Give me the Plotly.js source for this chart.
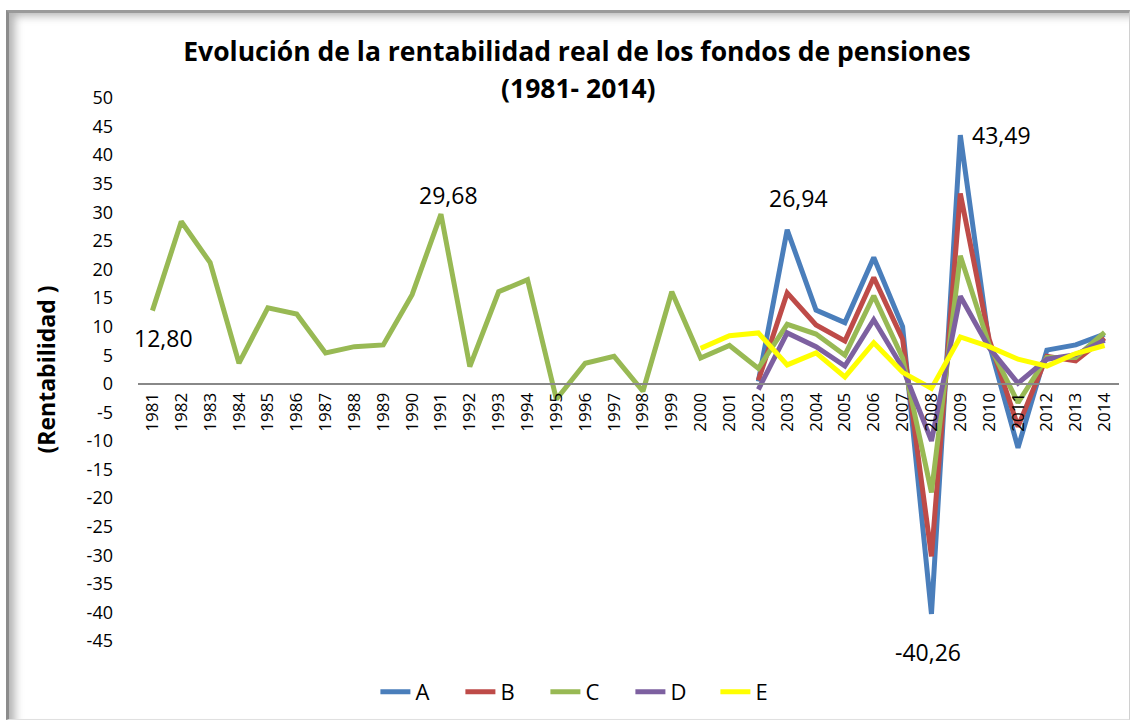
<!DOCTYPE html>
<html>
<head>
<meta charset="utf-8">
<script src="https://cdn.plot.ly/plotly-3.0.1.min.js"></script>
<style>
  html, body { margin: 0; padding: 0; background: #fff; }
  #wrap { position: relative; width: 1136px; height: 728px; overflow: hidden; }
  #frame { position: absolute; left: 6px; top: 10px; width: 1124px; height: 710px;
           border-left: 3px solid #8c8c8c; border-top: 3px solid #9a9a9a; border-right: 1px solid #d0d0d0; border-bottom: 1px solid #e0e0e0;
           box-shadow: inset 9px 6px 8px -3px rgba(120,120,120,0.55); box-sizing: border-box; }
  #chart { position: absolute; left: 0; top: 0; width: 1136px; height: 728px; }
</style>
</head>
<body>
<div id="wrap">
  <div id="frame"></div>
  <div id="chart"></div>
</div>
<script>
// ---- data ----
const years = ['1981','1982','1983','1984','1985','1986','1987','1988','1989','1990',
               '1991','1992','1993','1994','1995','1996','1997','1998','1999','2000',
               '2001','2002','2003','2004','2005','2006','2007','2008','2009','2010',
               '2011','2012','2013','2014'];

const seriesA = [null,null,null,null,null,null,null,null,null,null,
                 null,null,null,null,null,null,null,null,null,null,
                 null,0.4,26.94,12.9,10.7,22.1,10.0,-40.26,43.49,7.0,
                 -11.2,5.9,6.8,8.7];
const seriesB = [null,null,null,null,null,null,null,null,null,null,
                 null,null,null,null,null,null,null,null,null,null,
                 null,0.6,15.9,10.3,7.5,18.6,7.8,-30.2,33.3,7.8,
                 -7.5,4.8,4.0,8.0];
const seriesC = [12.80,28.4,21.2,3.6,13.3,12.2,5.4,6.5,6.8,15.6,
                 29.68,3.0,16.1,18.2,-2.7,3.6,4.8,-1.3,16.1,4.5,
                 6.7,2.7,10.4,8.7,5.0,15.4,4.5,-19.0,22.4,6.8,
                 -3.3,4.6,4.6,9.0];
const seriesD = [null,null,null,null,null,null,null,null,null,null,
                 null,null,null,null,null,null,null,null,null,null,
                 null,-1.0,8.9,6.5,3.1,11.2,2.8,-10.0,15.3,6.3,
                 0.1,4.3,5.1,7.6];
const seriesE = [null,null,null,null,null,null,null,null,null,null,
                 null,null,null,null,null,null,null,null,null,6.2,
                 8.4,8.9,3.3,5.4,1.2,7.2,2.0,-0.8,8.2,6.5,
                 4.3,3.1,5.3,6.7];

const seriesNames = ['A','B','C','D','E'];
const yTickVals = [50,45,40,35,30,25,20,15,10,5,0,-5,-10,-15,-20,-25,-30,-35,-40,-45];

// labelled points: [series name, year]
const labelledPoints = [['C','1981'],['C','1991'],['A','2003'],['A','2009'],['A','2008']];

const titleLine1 = 'Evolución de la rentabilidad real de los fondos de pensiones';
const titleLine2 = '(1981- 2014)';
const yTitle = '(Rentabilidad )';

// ---- chart ----
const allSeries = {A: seriesA, B: seriesB, C: seriesC, D: seriesD, E: seriesE};
const colors = {A:'#4a7ebb', B:'#be4b48', C:'#98b954', D:'#7d60a0', E:'#ffff00'};
const FONT = '"Open Sans", "Noto Sans", sans-serif';

const traces = seriesNames.map(n => ({
  type: 'scatter', mode: 'lines', name: n,
  x: years, y: allSeries[n],
  line: {color: colors[n], width: 5, shape: 'linear'},
  connectgaps: false, hoverinfo: 'x+y'
}));

const labelOffsets = {
  'C1981': [11, -27], 'C1991': [8, 19], 'A2003': [11, 32], 'A2009': [41, 0], 'A2008': [-3, -38]
};
const annotations = labelledPoints.map(([s, yr]) => {
  const idx = years.indexOf(yr);
  const v = allSeries[s][idx];
  const off = labelOffsets[s + yr];
  return {
    x: idx, y: v, xref: 'x', yref: 'y',
    text: v.toFixed(2).replace('.', ','),
    showarrow: false, xshift: off[0], yshift: off[1],
    xanchor: 'center', yanchor: 'middle',
    font: {family: FONT, size: 23, color: '#000'}
  };
});
annotations.push({
  text: '<b>' + titleLine2 + '</b>', xref: 'paper', yref: 'paper',
  x: (578 - 138) / 981, y: (641 - 88) / 543, xanchor: 'center', yanchor: 'middle',
  showarrow: false, font: {family: FONT, size: 26.5, color: '#000'}
});

const layout = {
  width: 1136, height: 728,
  paper_bgcolor: 'rgba(0,0,0,0)', plot_bgcolor: 'rgba(0,0,0,0)',
  margin: {l: 138, r: 17, t: 98, b: 87},
  font: {family: FONT, color: '#000'},
  title: {
    text: '<b>' + titleLine1 + '</b>',
    x: 577 / 1136, xanchor: 'center', y: 1 - 52 / 728, yanchor: 'middle', yref: 'container',
    font: {family: FONT, size: 26.5, color: '#000'}
  },
  xaxis: {
    type: 'category', range: [-0.5, 33.5],
    anchor: 'free', position: 0.4733,
    showline: true, linecolor: '#888888', linewidth: 2,
    showgrid: false, zeroline: false, ticks: '',
    tickangle: -90, tickfont: {family: FONT, size: 17, color: '#000'},
    ticklabelstandoff: 1, fixedrange: true
  },
  yaxis: {
    range: [-45, 50], tickvals: yTickVals, ticktext: yTickVals.map(String),
    showline: false, showgrid: false, zeroline: false, ticks: '',
    tickfont: {family: FONT, size: 18, color: '#000'},
    ticklabelstandoff: 24,
    title: {text: '<b>' + yTitle + '</b>', font: {family: FONT, size: 23, color: '#000'}, standoff: 24},
    fixedrange: true
  },
  showlegend: true,
  legend: {
    orientation: 'h', x: 0.242, xanchor: 'left', y: -0.094, yanchor: 'middle',
    font: {family: FONT, size: 22, color: '#000'},
    entrywidth: 40, entrywidthmode: 'pixels', bgcolor: 'rgba(0,0,0,0)'
  },
  annotations: annotations
};

Plotly.newPlot('chart', traces, layout, {displayModeBar: false, staticPlot: true});
</script>
</body>
</html>
